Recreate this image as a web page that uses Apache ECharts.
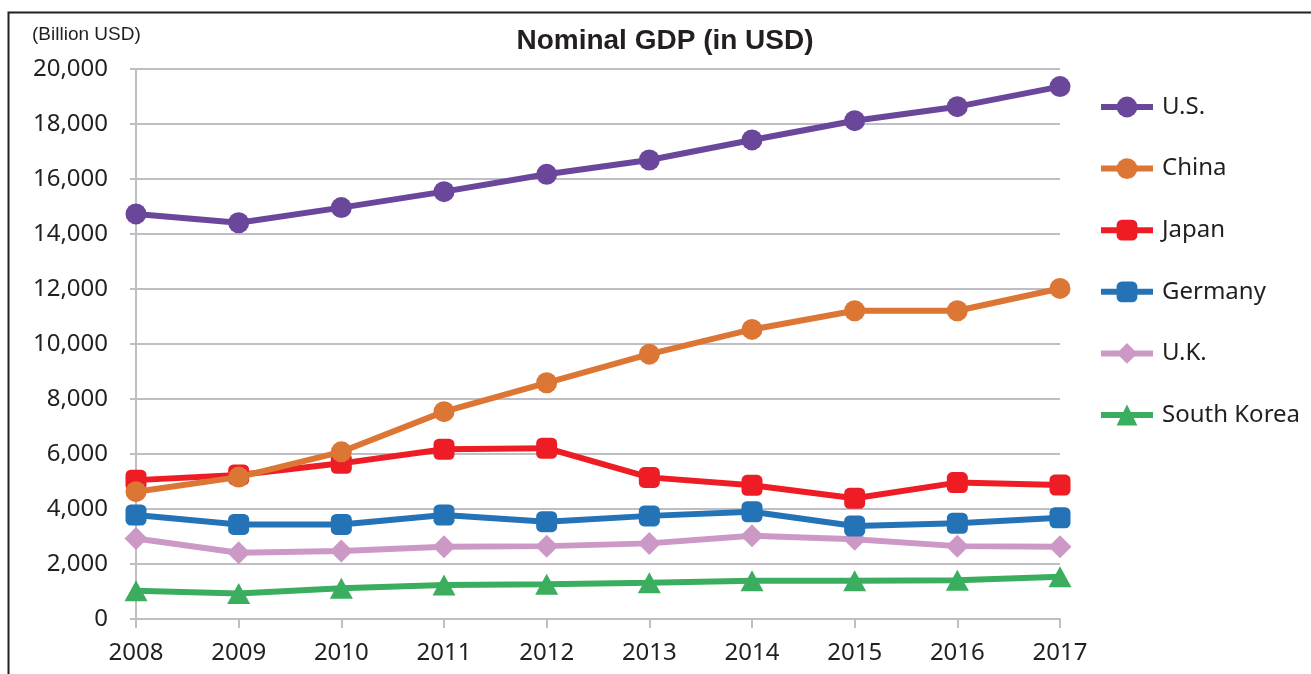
<!DOCTYPE html>
<html>
<head>
<meta charset="utf-8">
<script src="https://cdn.jsdelivr.net/npm/echarts@6/dist/echarts.min.js"></script>
<style>
html,body{margin:0;padding:0;background:#fff;}
#chart{width:1311px;height:674px;}
</style>
</head>
<body>
<div id="chart"></div>
<script>
const years = ['2008','2009','2010','2011','2012','2013','2014','2015','2016','2017'];
const usValues      = [14730, 14410, 14960, 15540, 16170, 16690, 17420, 18120, 18630, 19360];
const chinaValues   = [4630, 5160, 6080, 7540, 8590, 9630, 10530, 11210, 11210, 12020];
const japanValues   = [5050, 5240, 5660, 6170, 6210, 5150, 4860, 4390, 4960, 4870];
const germanyValues = [3780, 3440, 3440, 3780, 3540, 3750, 3900, 3380, 3480, 3680];
const ukValues      = [2930, 2410, 2470, 2630, 2650, 2750, 3030, 2900, 2650, 2630];
const koreaValues   = [1030, 930, 1120, 1240, 1260, 1320, 1390, 1390, 1410, 1540];
const seriesNames = ['U.S.', 'China', 'Japan', 'Germany', 'U.K.', 'South Korea'];
const yTicks = { min: 0, max: 20000, interval: 2000 };
const titleText = 'Nominal GDP (in USD)';
const unitText = '(Billion USD)';

const colors = ['#6b479c', '#dc7634', '#ee1d25', '#2473b6', '#cc99c7', '#3aae5e'];
const symbols = ['circle', 'circle', 'roundRect', 'roundRect', 'diamond', 'triangle'];
const symbolSizes = [21, 21, 21, 21, [23, 23], [23, 21]];
const dataSets = [usValues, chinaValues, japanValues, germanyValues, ukValues, koreaValues];
const textColor = '#231f20';
const gridColor = '#bfbfc3';

const chart = echarts.init(document.getElementById('chart'));
const series = seriesNames.map((name, i) => ({
  name: name,
  type: 'line',
  data: dataSets[i],
  symbol: symbols[i],
  symbolSize: symbolSizes[i],
  showAllSymbol: true,
  lineStyle: { width: 6, color: colors[i] },
  itemStyle: { color: colors[i], borderWidth: 0 },
  emphasis: { disabled: true },
  animation: false,
  z: 10 - i
}));

chart.setOption({
  animation: false,
  backgroundColor: '#ffffff',
  grid: { left: 136, right: 251, top: 69, bottom: 55, containLabel: false },
  xAxis: {
    type: 'category',
    data: years,
    boundaryGap: false,
    axisLine: { show: true, lineStyle: { color: gridColor, width: 2 } },
    axisTick: { show: true, length: 9, alignWithLabel: true, lineStyle: { color: gridColor, width: 2 } },
    axisLabel: { color: textColor, fontSize: 24, fontFamily: 'Noto Sans', margin: 22 },
    splitLine: { show: false }
  },
  yAxis: {
    type: 'value',
    min: yTicks.min,
    max: yTicks.max,
    interval: yTicks.interval,
    axisLine: { show: true, lineStyle: { color: gridColor, width: 2 } },
    axisTick: { show: true, length: 6, lineStyle: { color: gridColor, width: 2 } },
    axisLabel: {
      color: textColor, fontSize: 24, fontFamily: 'Noto Sans', margin: 28,
      formatter: v => v.toLocaleString('en-US')
    },
    splitLine: { show: true, lineStyle: { color: gridColor, width: 2 } }
  },
  legend: {
    orient: 'vertical',
    left: 1098,
    top: 95,
    padding: 0,
    itemWidth: 52,
    itemHeight: 26,
    itemGap: 37.6,
    data: seriesNames,
    lineStyle: { width: 6 },
    textStyle: { color: textColor, fontSize: 24, fontFamily: 'Noto Sans', lineHeight: 24, padding: [0, 0, 0, 4] },
    selectedMode: false
  },
  graphic: [
    { type: 'rect', left: 6, top: 10, shape: { width: 1400, height: 700 }, style: { fill: 'none', stroke: '#231f20', lineWidth: 2 }, silent: true },
    { type: 'text', x: 665, y: 41, style: { text: titleText, fill: textColor, font: 'bold 28px "Liberation Sans", Arial', textAlign: 'center', textVerticalAlign: 'middle' } },
    { type: 'text', x: 32, y: 35, style: { text: unitText, fill: textColor, font: '19px "Liberation Sans", Arial', textAlign: 'left', textVerticalAlign: 'middle' } }
  ],
  series: series
});
</script>
</body>
</html>
